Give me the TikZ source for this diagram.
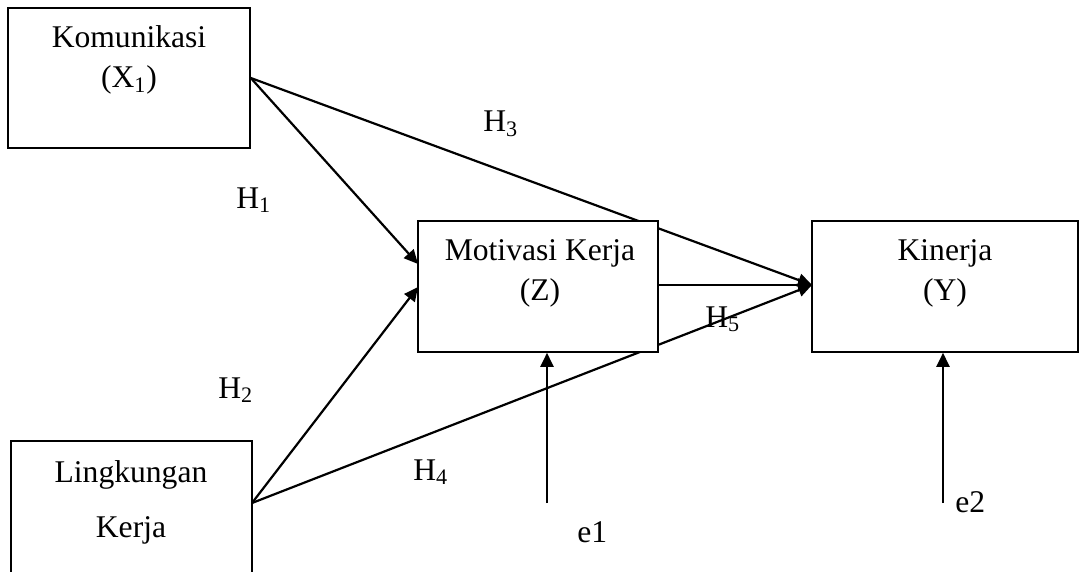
\documentclass[tikz,border=0pt]{standalone}
\usepackage{fontspec}
\setmainfont{Liberation Serif}
\usetikzlibrary{arrows.meta,calc}
\tikzset{
  boxnode/.style={draw, line width=0.8pt, fill=white, inner sep=0pt},
  txt/.style={anchor=base, inner sep=0pt, font=\fontsize{15.8}{19}\selectfont},
  conn/.style={line width=1.1pt, -{Triangle[length=7pt,width=6.5pt]}},
  plain/.style={line width=1pt}
}
\begin{document}
\begin{tikzpicture}[x=0.5pt,y=-0.5pt]
\useasboundingbox (0,0) rectangle (1080,572);
% anchor coordinates
\coordinate (Lout) at (252,503);
\coordinate (e1) at (547,503);
\coordinate (e2) at (943,503);
% boxes positions (for connectors drawn below)
\path (129,78) node[boxnode, minimum width=121pt, minimum height=70pt] (K) {};
\path (131.5,520.5) node[boxnode, minimum width=120.5pt, minimum height=79.5pt] (L) {};
% connectors (drawn before M and Y boxes so the boxes cover them)
\draw[conn] (K.east) -- ($(418,264)$) coordinate (M1);
\draw[conn] (K.east) -- (812,285) coordinate (Yin);
\draw[conn] (Lout) -- (418,287) coordinate (M2);
\draw[conn] (Lout) -- (Yin);
\path (538,286.5) node[boxnode, minimum width=120pt, minimum height=65.5pt] (M) {};
\path (945,286.5) node[boxnode, minimum width=133pt, minimum height=65.5pt] (Y) {};
\draw[conn] (M.east |- Yin) -- (Yin);
\draw[conn] (e1) -- (e1 |- M.south);
\draw[conn] (e2) -- (e2 |- Y.south);
% box texts
\node[txt] (Kt1) at (129,48) {Komunikasi};
\node[txt] (Kt2) at (129,88) {(X\textsubscript{1})};
\node[txt] (Lt1) at (131,482) {Lingkungan};
\node[txt] (Lt2) at (131,537) {Kerja};
\node[txt] (Mt1) at (540,260) {Motivasi Kerja};
\node[txt] (Mt2) at (540,300) {(Z)};
\node[txt] (Yt1) at (945,260) {Kinerja};
\node[txt] (Yt2) at (945,300) {(Y)};
% labels
\node[txt, anchor=base west] (H1) at (236,208) {H\textsubscript{1}};
\node[txt, anchor=base west] (H2) at (218,398) {H\textsubscript{2}};
\node[txt, anchor=base west] (H3) at (483,132) {H\textsubscript{3}};
\node[txt, anchor=base west] (H4) at (413,480) {H\textsubscript{4}};
\node[txt, anchor=base west] (H5) at (705,327) {H\textsubscript{5}};
\node[txt, anchor=base west] (e1t) at (577,542) {e1};
\node[txt, anchor=base west] (e2t) at (955,512) {e2};
\end{tikzpicture}
\end{document}
